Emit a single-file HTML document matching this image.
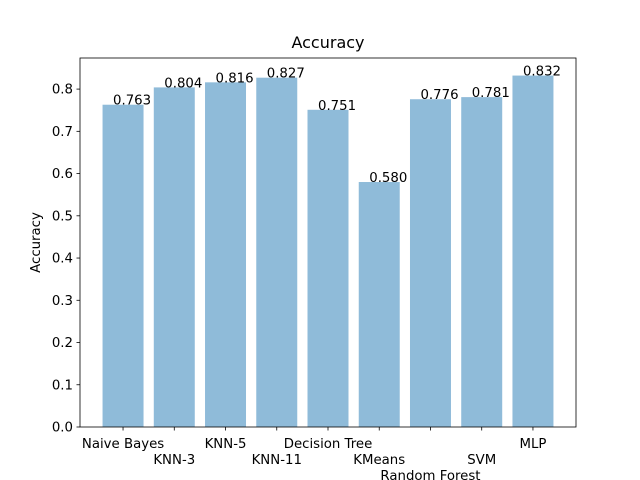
<!DOCTYPE html>
<html><head><meta charset="utf-8"><style>body{margin:0;background:#fff}svg{display:block;font-family:"DejaVu Sans","Liberation Sans",sans-serif}</style></head>
<body>
<svg id="chart" width="640" height="480" xmlns="http://www.w3.org/2000/svg"></svg>
<script>
const categories = ["Naive Bayes","KNN-3","KNN-5","KNN-11","Decision Tree","KMeans","Random Forest","SVM","MLP"];
const values = [0.763,0.804,0.816,0.827,0.751,0.580,0.776,0.781,0.832];
const labelRows = [0,1,0,1,0,1,2,1,0];
const yTicks = [0,0.1,0.2,0.3,0.4,0.5,0.6,0.7,0.8];
const NS="http://www.w3.org/2000/svg";
const svg=document.getElementById('chart');
const L=80,R=576,T=58,B=427;
const ymax=Math.max(...values)*1.05;
const xmin=-0.84,xmax=categories.length-1+0.84;
const x=v=>L+(v-xmin)/(xmax-xmin)*(R-L);
const y=v=>B-v/ymax*(B-T);
function mk(tag,attrs,parent){const e=document.createElementNS(NS,tag);for(const k in attrs)e.setAttribute(k,attrs[k]);(parent||svg).appendChild(e);return e;}
const t=mk('text',{x:(L+R)/2,y:48,'text-anchor':'middle','font-size':16,fill:'#000'});


t.textContent='Accuracy';
const yt=mk('text',{x:0,y:0,'text-anchor':'middle','font-size':13.3,transform:`translate(40,${(T+B)/2}) rotate(-90)`});


yt.textContent='Accuracy';
values.forEach((v,i)=>{
  const w=(x(0.4)-x(-0.4));
  const r=mk('rect',{x:x(i)-w/2,y:y(v),width:w,height:B-y(v),fill:'#8fbbd9'});
  
  
  const lb=mk('text',{x:x(i)-10,y:y(v),'font-size':13.3,fill:'#000'});
  
  
  lb.textContent=v.toFixed(3);
  mk('line',{x1:x(i),x2:x(i),y1:B,y2:B+3.5,stroke:'#000','stroke-width':0.8});
  const xl=mk('text',{x:x(i),y:448+labelRows[i]*16,'text-anchor':'middle','font-size':13.3,fill:'#000'});
  
  
  xl.textContent=categories[i];
});
yTicks.forEach(v=>{
  mk('line',{x1:L-3.5,x2:L,y1:y(v),y2:y(v),stroke:'#000','stroke-width':0.8});
  const tl=mk('text',{x:L-7,y:y(v)+4.5,'text-anchor':'end','font-size':13.3,fill:'#000'});
  
  
  tl.textContent=v.toFixed(1);
});
const f=mk('rect',{x:L,y:T,width:R-L,height:B-T,fill:'none',stroke:'#000','stroke-width':0.8});


</script>
</body></html>
